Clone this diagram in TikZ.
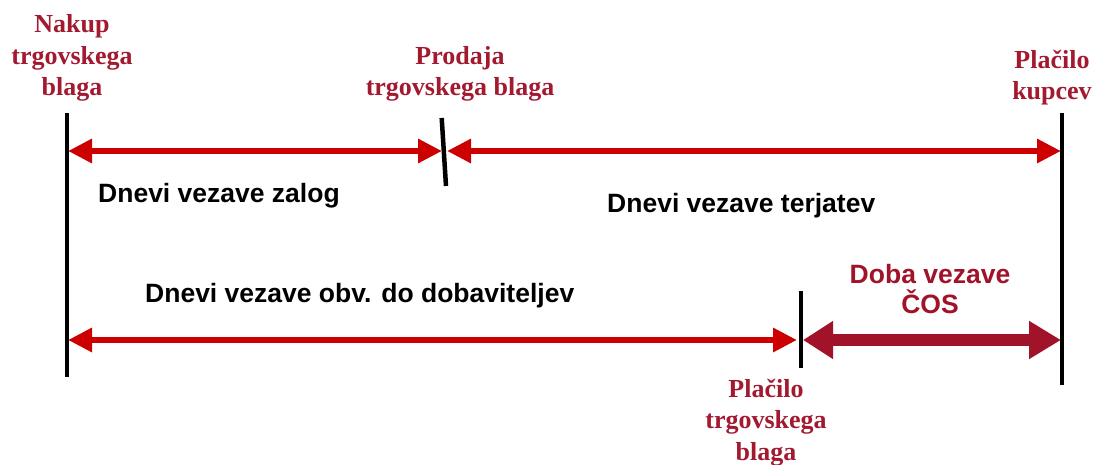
\documentclass[tikz,border=0pt]{standalone}
\usepackage{fontspec}
\setmainfont{Liberation Serif}
\setsansfont{Liberation Sans}
\usetikzlibrary{arrows.meta}
\definecolor{txtred}{HTML}{A31A30}
\definecolor{arrred}{HTML}{CC0000}
\definecolor{darkred}{HTML}{A11329}
\tikzset{
  vline/.style={line width=4.5pt, black},
  redarr/.style={line width=6pt, draw=arrred, {Triangle[length=24pt,width=23pt]}-{Triangle[length=24pt,width=23pt]}},
  darkarr/.style={line width=12pt, draw=darkred, {Triangle[length=30pt,width=36pt]}-{Triangle[length=32pt,width=36pt]}},
  evlabel/.style={font=\fontsize{26}{31.5}\selectfont\bfseries, text=txtred, align=center, inner sep=0pt, anchor=base},
  dlabel/.style={font=\sffamily\bfseries\fontsize{26.5}{30}\selectfont, inner sep=0pt, anchor=base west},
}
\begin{document}
\begin{tikzpicture}[x=1pt,y=-1pt]
\useasboundingbox (0,0) rectangle (1094,465);
% vertical marker lines
\coordinate (L1) at (67,113);  \coordinate (L2) at (67,377);
\coordinate (S1) at (441.7,118); \coordinate (S2) at (446,186);
\coordinate (R1) at (1062,113); \coordinate (R2) at (1062,385);
\coordinate (M1) at (801,291);  \coordinate (M2) at (801,368);
\draw[vline] (L1) -- (L2);
\draw[vline] (S1) -- (S2);
\draw[vline] (R1) -- (R2);
\draw[vline] (M1) -- (M2);
% arrow end points
\coordinate (a1) at (68,151);  \coordinate (a2) at (442,151);
\coordinate (b1) at (447,151); \coordinate (b2) at (1061,151);
\coordinate (c1) at (68,340);  \coordinate (c2) at (797,340);
\coordinate (d1) at (803,340); \coordinate (d2) at (1061,340);
\draw[redarr] (a1) -- (a2);
\draw[redarr] (b1) -- (b2);
\draw[redarr] (c1) -- (c2);
\draw[darkarr] (d1) -- (d2);
% event labels (anchor = baseline of last line)
\node[evlabel] (nakup) at (72,96) {Nakup\\trgovskega\\blaga};
\node[evlabel] (prodaja) at (460,96) {Prodaja\\trgovskega blaga};
\node[evlabel] (kupci) at (1052,100) {Plačilo\\kupcev};
\node[evlabel] (placilo) at (766,460) {Plačilo\\trgovskega\\blaga};
% duration labels
\node[dlabel] (zalog) at (98,203) {Dnevi vezave zalog};
\node[dlabel] (terj) at (607,212) {Dnevi vezave terjatev};
\node[dlabel] (obv) at (145,302) {Dnevi vezave obv. do dobaviteljev};
\node[font=\sffamily\bfseries\fontsize{26.5}{30}\selectfont, text=darkred, align=center, inner sep=0pt, anchor=base] (cos) at (930,313) {Doba vezave\\ČOS};
\end{tikzpicture}
\end{document}
